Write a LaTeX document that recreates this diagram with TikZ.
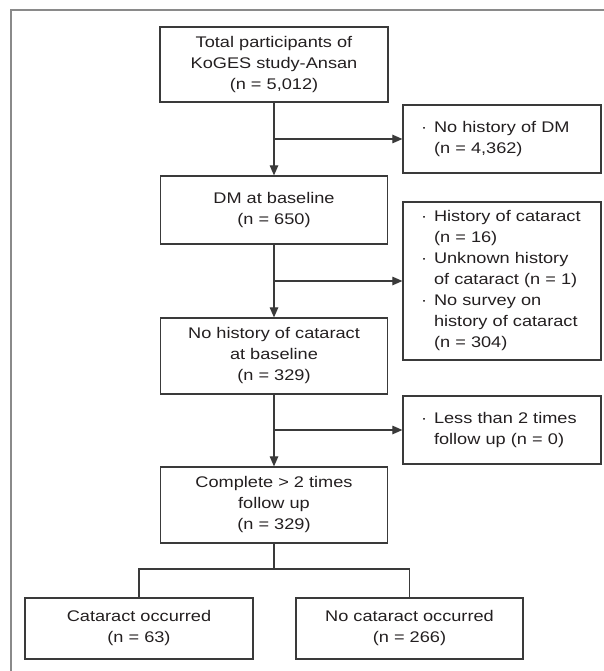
\documentclass[tikz,border=0pt]{standalone}
\usepackage{fontspec}
\setmainfont[FakeStretch=1.18]{Liberation Sans}
\usetikzlibrary{arrows.meta}
\definecolor{linecol}{HTML}{3A3A3A}
\definecolor{framecol}{HTML}{8A8A8A}
\definecolor{txtcol}{HTML}{231F20}
\newcommand{\bul}{\makebox[13pt][l]{\textperiodcentered}}
\newcommand{\ind}{\hspace*{13pt}}
\begin{document}
\begin{tikzpicture}[x=1pt,y=-1pt,
  font=\fontsize{15.4}{21}\selectfont,
  boxc/.style={draw=linecol, line width=1.2pt, text=txtcol, align=center, inner sep=0pt},
  boxl/.style={draw=linecol, line width=1.2pt, text=txtcol, align=left, text width=162pt, inner xsep=18pt, inner ysep=0pt, minimum width=198pt},
  conn/.style={draw=linecol, line width=1.1pt},
  arr/.style={conn, -{Triangle[length=10pt,width=8.5pt]}}]
\useasboundingbox (0,0) rectangle (603,671);
\draw[framecol, line width=1.4pt] (11,675) -- (11,10) -- (607,10);
\node[boxc, minimum width=228pt, minimum height=75pt] (top) at (274,64.5) {Total participants of\\KoGES study-Ansan\\(n = 5,012)};
\node[boxl, minimum height=68pt] (r1) at (502,139) {\bul No history of DM\\\ind(n = 4,362)};
\node[boxc, minimum width=227pt, minimum height=68pt] (dm) at (274,210) {DM at baseline\\(n = 650)};
\node[boxl, minimum height=158pt] (r2) at (502,281) {\bul History of cataract\\\ind(n = 16)\\\bul Unknown history\\\ind of cataract (n = 1)\\\bul No survey on\\\ind history of cataract\\\ind(n = 304)};
\node[boxc, minimum width=227pt, minimum height=76pt] (nh) at (274,356) {No history of cataract\\at baseline\\(n = 329)};
\node[boxl, minimum height=68pt] (r3) at (502,430) {\bul Less than 2 times\\\ind follow up (n = 0)};
\node[boxc, minimum width=227pt, minimum height=76pt] (cp) at (274,505) {Complete > 2 times\\follow up\\(n = 329)};
\node[boxc, minimum width=228pt, minimum height=61pt] (bl) at (139,628.5) {Cataract occurred\\(n = 63)};
\node[boxc, minimum width=227pt, minimum height=61pt] (br) at (409.5,628.5) {No cataract occurred\\(n = 266)};
\draw[arr] (top.south) -- (dm.north);
\draw[arr] (top.south |- r1.west) -- (r1.west);
\draw[arr] (dm.south) -- (nh.north);
\draw[arr] (dm.south |- r2.west) -- (r2.west);
\draw[arr] (nh.south) -- (cp.north);
\draw[arr] (nh.south |- r3.west) -- (r3.west);
\coordinate (split) at (274,569);
\draw[conn] (cp.south) -- (split);
\draw[conn] (bl.north) |- (split) -| (br.north);
\end{tikzpicture}
\end{document}
